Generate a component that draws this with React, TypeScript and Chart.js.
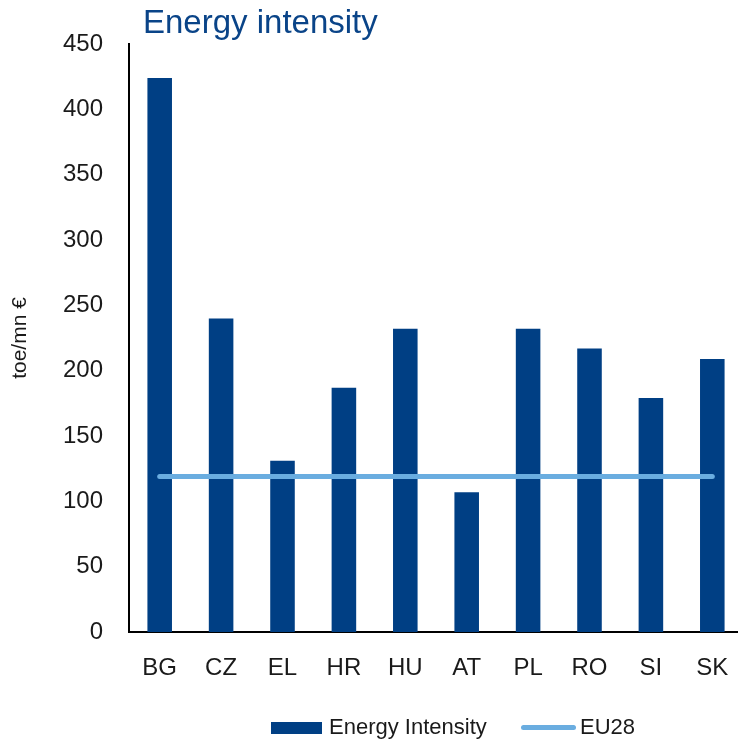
import React, { useEffect, useRef } from "react";
import { Chart, registerables } from "chart.js";

Chart.register(...registerables);

const categories = ["BG", "CZ", "EL", "HR", "HU", "AT", "PL", "RO", "SI", "SK"];
const energyIntensity = [424, 240, 131, 187, 232, 107, 232, 217, 179, 209];
const eu28Value = 119;
const eu28 = categories.map(() => eu28Value);
const yTicks = [0, 50, 100, 150, 200, 250, 300, 350, 400, 450];

const BAR_COLOR = "#003f84";
const LINE_COLOR = "#6aade0";
const FONT = "'Liberation Sans', Arial, sans-serif";

export default function App() {
  const ref = useRef<HTMLCanvasElement | null>(null);

  useEffect(() => {
    if (!ref.current) return;
    const chart = new Chart(ref.current, {
      type: "bar",
      data: {
        labels: categories,
        datasets: [
          {
            type: "line",
            label: "EU28",
            data: eu28,
            borderColor: LINE_COLOR,
            backgroundColor: LINE_COLOR,
            borderWidth: 5,
            borderCapStyle: "round",
            pointRadius: 0,
            order: 0,
          } as any,
          {
            type: "bar",
            label: "Energy Intensity",
            data: energyIntensity,
            backgroundColor: BAR_COLOR,
            barPercentage: 0.4,
            categoryPercentage: 1,
            order: 1,
          },
        ],
      },
      options: {
        responsive: false,
        animation: false,
        layout: { padding: { top: 44, right: 17, left: 0, bottom: 0 } },
        plugins: { legend: { display: false }, tooltip: { enabled: false }, title: { display: false } },
        scales: {
          x: {
            grid: { display: false, drawTicks: false },
            border: { display: true, color: "#000", width: 2 },
            ticks: { color: "#1a1a1a", font: { family: FONT, size: 24 }, padding: 22, maxRotation: 0 },
            afterFit: (s: any) => { s.height = 111; },
          },
          y: {
            min: 0,
            max: 450,
            afterBuildTicks: (s: any) => { s.ticks = yTicks.map((v) => ({ value: v })); },
            grid: { display: false, drawTicks: false },
            border: { display: true, color: "#000", width: 2 },
            ticks: { color: "#1a1a1a", font: { family: FONT, size: 24 }, padding: 26 },
            title: {
              display: true,
              text: "toe/mn €",
              color: "#1a1a1a",
              font: { family: FONT, size: 21 },
              padding: { top: 8, bottom: 0 },
            },
            afterFit: (s: any) => { s.width = 129; },
          },
        },
      },
    });
    return () => chart.destroy();
  }, []);

  return (
    <div style={{ position: "fixed", left: 0, top: 0, width: 738, height: 743, overflow: "hidden", background: "#fff", fontFamily: FONT }}>
      <canvas ref={ref} width={760} height={743} style={{ position: "absolute", left: 0, top: 0, width: 760, height: 743 }} />
      <div style={{ position: "absolute", left: 143, top: 5, fontSize: 33, lineHeight: "33px", color: "#0a4488", whiteSpace: "nowrap" }}>
        Energy intensity
      </div>
      <div style={{ position: "absolute", left: 271, top: 722, width: 51, height: 12, background: BAR_COLOR }} />
      <div style={{ position: "absolute", left: 329, top: 716, fontSize: 22, lineHeight: "22px", color: "#1a1a1a", whiteSpace: "nowrap" }}>
        Energy Intensity
      </div>
      <div style={{ position: "absolute", left: 521, top: 725, width: 55, height: 5, borderRadius: 3, background: LINE_COLOR }} />
      <div style={{ position: "absolute", left: 580, top: 716, fontSize: 22, lineHeight: "22px", color: "#1a1a1a", whiteSpace: "nowrap" }}>
        EU28
      </div>
    </div>
  );
}
